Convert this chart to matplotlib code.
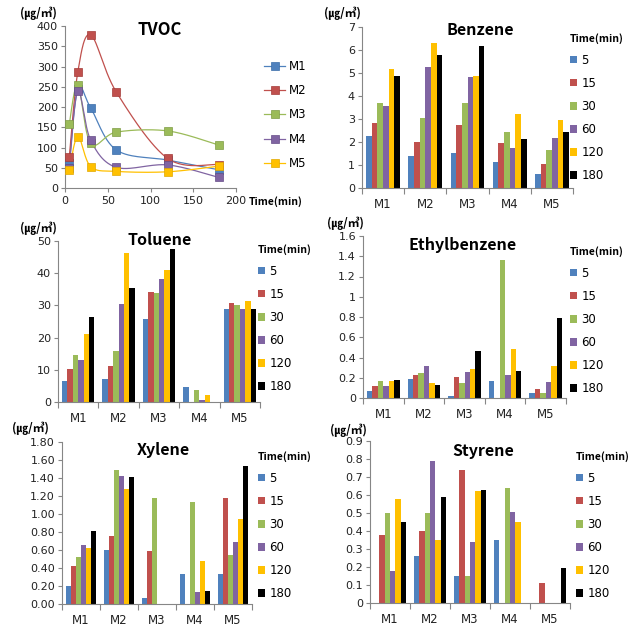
import numpy as np
import matplotlib
matplotlib.use('Agg')
import matplotlib.pyplot as plt
from matplotlib.lines import Line2D
from matplotlib.ticker import FixedLocator

plt.rcParams['font.family'] = ['Noto Sans CJK KR', 'DejaVu Sans']

sites = ['M1', 'M2', 'M3', 'M4', 'M5']
times = [5, 15, 30, 60, 120, 180]
time_labels = ['5', '15', '30', '60', '120', '180']

# TVOC (ug/m3) per site over sampling time
tvoc_m1 = [62, 245, 198, 94, 69, 45]
tvoc_m2 = [76, 287, 378, 237, 73, 58]
tvoc_m3 = [158, 254, 110, 138, 141, 106]
tvoc_m4 = [50, 239, 118, 51, 57, 26]
tvoc_m5 = [44, 127, 53, 41, 40, 54]

# bar charts: rows = time (5..180 min), columns = site M1..M5
benzene = [
    [2.27, 1.40, 1.53, 1.11, 0.62],
    [2.83, 2.02, 2.74, 1.95, 1.05],
    [3.68, 3.03, 3.68, 2.42, 1.66],
    [3.55, 5.27, 4.81, 1.73, 2.16],
    [5.17, 6.32, 4.86, 3.22, 2.96],
    [4.86, 5.77, 6.19, 2.12, 2.42]]
toluene = [
    [6.5, 7.1, 25.8, 4.6, 29.0],
    [10.1, 11.3, 34.3, 0, 30.9],
    [14.5, 15.8, 33.7, 3.6, 30.0],
    [13.0, 30.4, 38.1, 0.5, 29.0],
    [21.2, 46.4, 40.9, 2.3, 31.3],
    [26.5, 35.5, 47.4, 0, 29.0]]
ethylbenzene = [
    [0.066, 0.19, 0.02, 0.17, 0.05],
    [0.12, 0.23, 0.21, 0, 0.09],
    [0.17, 0.25, 0.15, 1.36, 0.05],
    [0.12, 0.32, 0.26, 0.23, 0.16],
    [0.17, 0.15, 0.29, 0.48, 0.32],
    [0.18, 0.13, 0.46, 0.27, 0.79]]
xylene = [
    [0.20, 0.60, 0.07, 0.33, 0.33],
    [0.42, 0.76, 0.585, 0, 1.18],
    [0.52, 1.49, 1.18, 1.13, 0.54],
    [0.66, 1.42, 0, 0.13, 0.69],
    [0.62, 1.28, 0, 0.48, 0.94],
    [0.81, 1.41, 0, 0.145, 1.53]]
styrene = [
    [0, 0.26, 0.15, 0.35, 0],
    [0.38, 0.40, 0.74, 0, 0.11],
    [0.50, 0.50, 0.15, 0.64, 0],
    [0.18, 0.79, 0.34, 0.505, 0],
    [0.58, 0.35, 0.62, 0.45, 0],
    [0.45, 0.59, 0.63, 0, 0.195]]

colors = ['#4F81BD', '#C0504D', '#9BBB59', '#8064A2', '#FFC000', '#000000']
edge_colors = ['#3A6DA8', '#A33B38', '#7E9C44', '#654C87', '#E0A800', '#000000']
UNIT = '(㎍/㎥)'
SPINE = '#868686'
TICKFONT = 'DejaVu Sans'
W, H = 643, 642

fig = plt.figure(figsize=(6.43, 6.42), dpi=100)


def add_axes(l, t, r, b):
    return fig.add_axes([l / W, 1 - b / H, (r - l) / W, (b - t) / H])


def style_axes(ax):
    for s in ['top', 'right']:
        ax.spines[s].set_visible(False)
    for s in ['left', 'bottom']:
        ax.spines[s].set_color(SPINE)
        ax.spines[s].set_linewidth(0.8)
    ax.tick_params(axis='both', which='both', direction='out', color=SPINE,
                   labelsize=8, labelcolor='#222222', width=0.8)
    ax.tick_params(axis='y', length=3, pad=2)


def set_tick_font(ax):
    for lab in ax.get_xticklabels() + ax.get_yticklabels():
        lab.set_fontfamily(TICKFONT)


def ftext(px, py, s, **kw):
    fig.text(px / W, 1 - py / H, s, **kw)


def catmull_rom(xs, ys, n=30):
    P = np.column_stack([xs, ys]).astype(float)
    P = np.vstack([P[0], P, P[-1]])
    out = []
    for i in range(1, len(P) - 2):
        p0, p1, p2, p3 = P[i - 1], P[i], P[i + 1], P[i + 2]
        t = np.linspace(0, 1, n)[:, None]
        c = 0.5 * ((2 * p1) + (-p0 + p2) * t + (2 * p0 - 5 * p1 + 4 * p2 - p3) * t ** 2
                   + (-p0 + 3 * p1 - 3 * p2 + p3) * t ** 3)
        out.append(c if i == 1 else c[1:])
    c = np.vstack(out)
    return c[:, 0], c[:, 1]


# ---------------- TVOC ----------------
ax = add_axes(65, 26, 236, 188)
style_axes(ax)
series = [tvoc_m1, tvoc_m2, tvoc_m3, tvoc_m4, tvoc_m5]
handles = []
for i, vals in enumerate(series):
    sx, sy = catmull_rom(times, vals)
    ax.plot(sx, sy, color=colors[i], lw=0.9, zorder=2)
    ax.plot(times, vals, ls='none', marker='s', ms=6, color=colors[i],
            mec=edge_colors[i], mew=0.5, zorder=3)
    handles.append(Line2D([], [], color=colors[i], lw=0.9, marker='s', ms=6,
                          mec=edge_colors[i], mew=0.5))
ax.set_xlim(0, 200)
ax.set_ylim(0, 400)
ax.set_xticks([0, 50, 100, 150, 200])
ax.set_yticks(range(0, 401, 50))
ax.tick_params(axis='x', length=3, pad=3)
set_tick_font(ax)
ax.legend(handles, sites, loc='upper left', bbox_to_anchor=(264 / W, 1 - 60 / H),
          bbox_transform=fig.transFigure, frameon=False,
          prop={'family': TICKFONT, 'size': 8.5},
          handlelength=1.8, handletextpad=0.3, labelspacing=0.95,
          borderpad=0, borderaxespad=0)
ftext(160, 30, 'TVOC', ha='center', va='center', fontsize=12, fontweight='bold')
ftext(38, 13, UNIT, ha='center', va='center', fontsize=8.5, fontweight='bold')
ftext(276, 202, 'Time(min)', ha='center', va='center', fontsize=7.5, fontweight='bold')


# ---------------- bar panels ----------------
def bar_panel(rect, data, title, ylim, yticks, ylabels, title_xy, unit_xy, legend_xy):
    ax = add_axes(*rect)
    style_axes(ax)
    x = np.arange(len(sites))
    n = len(data)
    total = 0.8
    w = total / n
    for i, vals in enumerate(data):
        ax.bar(x - total / 2 + w * (i + 0.5), vals, w, color=colors[i],
               edgecolor='none', label=time_labels[i], zorder=2)
    ax.set_xlim(-0.5, len(sites) - 0.5)
    ax.set_ylim(*ylim)
    ax.set_xticks(x)
    ax.set_xticklabels(sites)
    ax.xaxis.set_minor_locator(FixedLocator(np.arange(-0.5, len(sites), 1.0)))
    ax.tick_params(axis='x', which='major', length=0, pad=7, labelsize=8.5)
    ax.tick_params(axis='x', which='minor', length=4)
    ax.set_yticks(yticks)
    ax.set_yticklabels(ylabels)
    set_tick_font(ax)
    ftext(title_xy[0], title_xy[1], title, ha='center', va='center',
          fontsize=11.5, fontweight='bold')
    ftext(unit_xy[0], unit_xy[1], UNIT, ha='center', va='center',
          fontsize=8.5, fontweight='bold')
    ax.legend(loc='upper left', bbox_to_anchor=(legend_xy[0] / W, 1 - legend_xy[1] / H),
              bbox_transform=fig.transFigure, frameon=False,
              prop={'family': TICKFONT, 'size': 8.5},
              title='Time(min)', title_fontproperties={'weight': 'bold', 'size': 7.5},
              alignment='left', handlelength=0.6, handleheight=0.6,
              handletextpad=0.35, labelspacing=0.85, borderpad=0, borderaxespad=0)
    return ax


def fmt_general(v):
    return ('%.1f' % v).rstrip('0').rstrip('.')


bar_panel((362, 27, 573, 188), benzene, 'Benzene', (0, 7),
          list(range(0, 8)), [str(v) for v in range(0, 8)],
          (480, 30), (342, 13), (570, 33))

tol_ticks = list(range(0, 51, 10))
bar_panel((58, 241, 260, 402), toluene, 'Toluene', (0, 50),
          tol_ticks, [str(v) for v in tol_ticks],
          (160, 240), (38, 228), (258, 244))

eb_ticks = [0, 0.2, 0.4, 0.6, 0.8, 1.0, 1.2, 1.4, 1.6]
bar_panel((363, 236, 566, 398), ethylbenzene, 'Ethylbenzene', (0, 1.6),
          eb_ticks, [fmt_general(v) for v in eb_ticks],
          (463, 245), (345, 223), (570, 246))

xy_ticks = [0, 0.2, 0.4, 0.6, 0.8, 1.0, 1.2, 1.4, 1.6, 1.8]
bar_panel((62, 442, 252, 604), xylene, 'Xylene', (0, 1.8),
          xy_ticks, ['%.2f' % v for v in xy_ticks],
          (163, 450), (30, 428), (258, 451))

st_ticks = [0, 0.1, 0.2, 0.3, 0.4, 0.5, 0.6, 0.7, 0.8, 0.9]
bar_panel((370, 441, 570, 603), styrene, 'Styrene', (0, 0.9),
          st_ticks, [fmt_general(v) for v in st_ticks],
          (483, 451), (348, 430), (576, 451))

fig.savefig('out.png', dpi=100)
